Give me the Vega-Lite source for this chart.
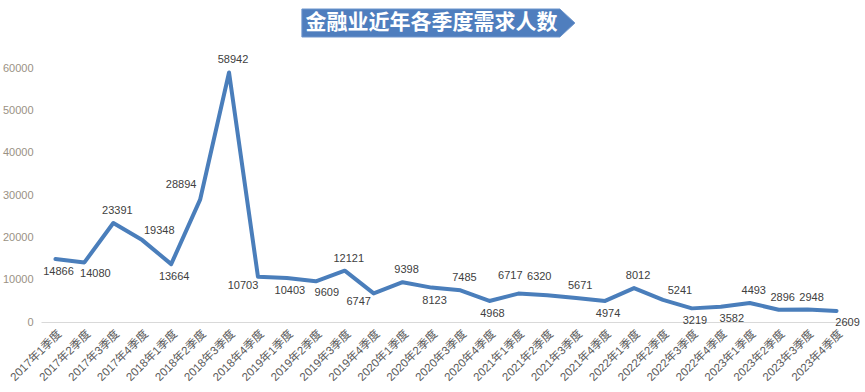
{
  "$schema": "https://vega.github.io/schema/vega-lite/v6.json",
  "width": 810,
  "height": 254,
  "autosize": {"type": "none"},
  "padding": {"left": 41, "top": 68, "right": 14, "bottom": 70},
  "background": "white",
  "config": {"view": {"stroke": null}},
  "datasets": {
    "demand": [
      {"quarter": "2017年1季度", "demand": 14866},
      {"quarter": "2017年2季度", "demand": 14080},
      {"quarter": "2017年3季度", "demand": 23391},
      {"quarter": "2017年4季度", "demand": 19348},
      {"quarter": "2018年1季度", "demand": 13664},
      {"quarter": "2018年2季度", "demand": 28894},
      {"quarter": "2018年3季度", "demand": 58942},
      {"quarter": "2018年4季度", "demand": 10703},
      {"quarter": "2019年1季度", "demand": 10403},
      {"quarter": "2019年2季度", "demand": 9609},
      {"quarter": "2019年3季度", "demand": 12121},
      {"quarter": "2019年4季度", "demand": 6747},
      {"quarter": "2020年1季度", "demand": 9398},
      {"quarter": "2020年2季度", "demand": 8123},
      {"quarter": "2020年3季度", "demand": 7485},
      {"quarter": "2020年4季度", "demand": 4968},
      {"quarter": "2021年1季度", "demand": 6717},
      {"quarter": "2021年2季度", "demand": 6320},
      {"quarter": "2021年3季度", "demand": 5671},
      {"quarter": "2021年4季度", "demand": 4974},
      {"quarter": "2022年1季度", "demand": 8012},
      {"quarter": "2022年2季度", "demand": 5241},
      {"quarter": "2022年3季度", "demand": 3219},
      {"quarter": "2022年4季度", "demand": 3582},
      {"quarter": "2023年1季度", "demand": 4493},
      {"quarter": "2023年2季度", "demand": 2896},
      {"quarter": "2023年3季度", "demand": 2948},
      {"quarter": "2023年4季度", "demand": 2609}
    ],
    "banner": [{"title": "金融业近年各季度需求人数"}]
  },
  "data": {"name": "demand"},
  "layer": [
    {
      "mark": {"type": "line", "color": "#4a7ebb", "strokeWidth": 4, "strokeJoin": "round", "strokeCap": "round"},
      "encoding": {
        "x": {
          "field": "quarter",
          "type": "ordinal",
          "sort": null,
          "scale": {"type": "point", "padding": 0.5},
          "axis": {
            "title": null,
            "labelAngle": -45,
            "labelAlign": "right",
            "labelBaseline": "middle",
            "labelPadding": 10,
            "labelOffset": 4,
            "labelFont": "Liberation Sans, Noto Sans CJK SC",
            "labelFontSize": 11.5,
            "labelColor": "#595959",
            "ticks": false,
            "domainColor": "#d9d9d9",
            "domainWidth": 1,
            "labelOverlap": false
          }
        },
        "y": {
          "field": "demand",
          "type": "quantitative",
          "scale": {"domain": [0, 60000], "nice": false},
          "axis": {
            "title": null,
            "values": [0, 10000, 20000, 30000, 40000, 50000, 60000],
            "format": "d",
            "domain": false,
            "ticks": false,
            "grid": false,
            "labelPadding": 8,
            "labelFont": "Liberation Sans",
            "labelFontSize": 11,
            "labelColor": "#9a9184",
            "labelFlush": false
          }
        }
      }
    },
    {
      "data": {"name": "banner"},
      "mark": {
        "type": "point",
        "filled": true,
        "opacity": 1,
        "fill": "#4f7ebe",
        "stroke": "#6d95cc",
        "strokeWidth": 1,
        "shape": "M -0.904 -0.0976 L 0.895 -0.0976 L 1 0 L 0.895 0.0976 L -0.904 0.0976 Z",
        "size": 82255,
        "clip": false
      },
      "encoding": {
        "x": {"datum": "2020年2季度", "type": "ordinal"},
        "y": {"datum": 70630, "type": "quantitative"}
      }
    },
    {
      "data": {"name": "banner"},
      "mark": {
        "type": "text",
        "align": "center",
        "baseline": "middle",
        "font": "Noto Sans CJK SC",
        "fontSize": 21,
        "fontWeight": "bold",
        "color": "white",
        "clip": false
      },
      "encoding": {
        "x": {"datum": "2020年2季度", "type": "ordinal"},
        "y": {"datum": 70630, "type": "quantitative"},
        "text": {"field": "title", "type": "nominal"}
      }
    },
    {
      "transform": [{"filter": {"field": "quarter", "oneOf": ["2017年3季度", "2018年3季度", "2019年3季度", "2020年1季度", "2020年3季度", "2021年3季度", "2022年1季度", "2023年1季度", "2023年2季度", "2023年3季度"]}}],
      "mark": {"type": "text", "dx": 4, "dy": -12, "align": "center", "baseline": "middle", "font": "Liberation Sans", "fontSize": 11, "color": "#404040"},
      "encoding": {
        "x": {"field": "quarter", "type": "ordinal", "sort": null},
        "y": {"field": "demand", "type": "quantitative"},
        "text": {"field": "demand", "type": "quantitative", "format": "d"}
      }
    },
    {
      "transform": [{"filter": {"field": "quarter", "oneOf": ["2021年1季度", "2021年2季度"]}}],
      "mark": {"type": "text", "dx": -8, "dy": -18, "align": "center", "baseline": "middle", "font": "Liberation Sans", "fontSize": 11, "color": "#404040"},
      "encoding": {
        "x": {"field": "quarter", "type": "ordinal", "sort": null},
        "y": {"field": "demand", "type": "quantitative"},
        "text": {"field": "demand", "type": "quantitative", "format": "d"}
      }
    },
    {
      "transform": [{"filter": {"field": "quarter", "oneOf": ["2018年2季度"]}}],
      "mark": {"type": "text", "dx": -19, "dy": -15, "align": "center", "baseline": "middle", "font": "Liberation Sans", "fontSize": 11, "color": "#404040"},
      "encoding": {
        "x": {"field": "quarter", "type": "ordinal", "sort": null},
        "y": {"field": "demand", "type": "quantitative"},
        "text": {"field": "demand", "type": "quantitative", "format": "d"}
      }
    },
    {
      "transform": [{"filter": {"field": "quarter", "oneOf": ["2017年4季度", "2022年2季度"]}}],
      "mark": {"type": "text", "dx": 17, "dy": -9, "align": "center", "baseline": "middle", "font": "Liberation Sans", "fontSize": 11, "color": "#404040"},
      "encoding": {
        "x": {"field": "quarter", "type": "ordinal", "sort": null},
        "y": {"field": "demand", "type": "quantitative"},
        "text": {"field": "demand", "type": "quantitative", "format": "d"}
      }
    },
    {
      "transform": [{"filter": {"field": "quarter", "oneOf": ["2017年1季度", "2018年1季度", "2019年1季度", "2020年2季度", "2020年4季度", "2021年4季度", "2022年3季度"]}}],
      "mark": {"type": "text", "dx": 3, "dy": 13, "align": "center", "baseline": "middle", "font": "Liberation Sans", "fontSize": 11, "color": "#404040"},
      "encoding": {
        "x": {"field": "quarter", "type": "ordinal", "sort": null},
        "y": {"field": "demand", "type": "quantitative"},
        "text": {"field": "demand", "type": "quantitative", "format": "d"}
      }
    },
    {
      "transform": [{"filter": {"field": "quarter", "oneOf": ["2017年2季度", "2019年2季度", "2022年4季度", "2023年4季度"]}}],
      "mark": {"type": "text", "dx": 11, "dy": 12, "align": "center", "baseline": "middle", "font": "Liberation Sans", "fontSize": 11, "color": "#404040"},
      "encoding": {
        "x": {"field": "quarter", "type": "ordinal", "sort": null},
        "y": {"field": "demand", "type": "quantitative"},
        "text": {"field": "demand", "type": "quantitative", "format": "d"}
      }
    },
    {
      "transform": [{"filter": {"field": "quarter", "oneOf": ["2018年4季度", "2019年4季度"]}}],
      "mark": {"type": "text", "dx": -15, "dy": 9, "align": "center", "baseline": "middle", "font": "Liberation Sans", "fontSize": 11, "color": "#404040"},
      "encoding": {
        "x": {"field": "quarter", "type": "ordinal", "sort": null},
        "y": {"field": "demand", "type": "quantitative"},
        "text": {"field": "demand", "type": "quantitative", "format": "d"}
      }
    }
  ]
}
